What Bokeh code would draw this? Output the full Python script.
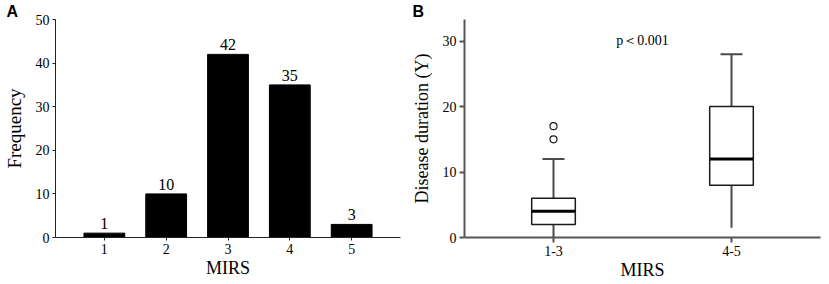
from bokeh.plotting import figure
from bokeh.layouts import row
from bokeh.models import Range1d, FactorRange, FixedTicker, Label, ColumnDataSource
from bokeh.embed import file_html
from bokeh.resources import INLINE
from bokeh.core.properties import value

# ---- Panel A data ----
mirs_scores = [1, 2, 3, 4, 5]
frequency = [1, 10, 42, 35, 3]
freq_ticks = [0, 10, 20, 30, 40, 50]

# ---- Panel B data ----
groups = ["1-3", "4-5"]
lower_whisker = [0, 1.5]
q1 = [2, 8]
median = [4, 12]
q3 = [6, 20]
upper_whisker = [12, 28]
outlier_group = ["1-3", "1-3"]
outlier_value = [15, 17]
dur_ticks = [0, 10, 20, 30]

SERIF = "Liberation Serif"


def style_axes(p, axis_color, axis_width, tick_out):
    for ax in (p.xaxis[0], p.yaxis[0]):
        ax.axis_line_color = axis_color
        ax.axis_line_width = axis_width
        ax.major_tick_line_color = axis_color
        ax.major_tick_line_width = axis_width
        ax.major_tick_out = tick_out
        ax.major_tick_in = 0
        ax.minor_tick_line_color = None
        ax.major_label_text_font = SERIF
        ax.major_label_text_font_size = "14px"
        ax.major_label_text_color = "black"
        ax.axis_label_text_font = SERIF
        ax.axis_label_text_font_style = "normal"
        ax.axis_label_text_font_size = "18px"
        ax.axis_label_text_color = "black"
        ax.major_label_standoff = 3
    p.xgrid.grid_line_color = None
    p.ygrid.grid_line_color = None
    p.outline_line_color = None


def panel_letter(p, letter, offset):
    p.title.text = letter
    p.title.align = "left"
    p.title.offset = offset
    p.title.standoff = 0
    p.title.text_font = "Liberation Sans"
    p.title.text_font_style = "bold"
    p.title.text_font_size = "16px"
    p.title.text_line_height = 0.6
    p.title.text_color = "black"


# ---------------- Panel A ----------------
pa = figure(width=408, height=282, output_backend="svg", toolbar_location=None,
            x_range=Range1d(0.21, 5.79), y_range=Range1d(0, 50),
            min_border_left=53, min_border_right=8, min_border_top=0, min_border_bottom=43)
style_axes(pa, "#222222", 1, 3)
pa.xaxis.ticker = FixedTicker(ticks=mirs_scores)
pa.yaxis.ticker = FixedTicker(ticks=freq_ticks)
pa.xaxis.axis_label = "MIRS"
pa.yaxis.axis_label = "Frequency"
pa.yaxis.axis_label_text_font_size = "19px"
pa.xaxis.axis_label_standoff = 1
pa.yaxis.axis_label_standoff = 8
panel_letter(pa, "A", -49)

src_a = ColumnDataSource(dict(x=mirs_scores, y=frequency, lab=[str(v) for v in frequency]))
pa.vbar(x="x", top="y", width=0.66, bottom=0, source=src_a,
        fill_color="black", line_color="black")
pa.text(x="x", y="y", text="lab", source=src_a, text_align="center",
        text_baseline="bottom", y_offset=-4, text_font=value(SERIF),
        text_font_size="16px", text_color="black")

# ---------------- Panel B ----------------
pb = figure(width=418, height=282, output_backend="svg", toolbar_location=None,
            x_range=FactorRange(*groups, range_padding=0), y_range=Range1d(0, 33.3),
            min_border_left=56, min_border_right=6, min_border_top=0, min_border_bottom=43)
style_axes(pb, "#555555", 2, 5)
pb.yaxis.ticker = FixedTicker(ticks=dur_ticks)
pb.xaxis.axis_label = "MIRS"
pb.yaxis.axis_label = "Disease duration (Y)"
pb.xaxis.axis_label_standoff = 1
pb.yaxis.axis_label_standoff = 8
panel_letter(pb, "B", -52)

src_b = ColumnDataSource(dict(g=groups, lo=lower_whisker, q1=q1, med=median,
                              q3=q3, hi=upper_whisker))
# whiskers
pb.segment(x0="g", y0="lo", x1="g", y1="q1", source=src_b, line_color="#4a4a4a", line_width=2)
pb.segment(x0="g", y0="q3", x1="g", y1="hi", source=src_b, line_color="#4a4a4a", line_width=2)
pb.scatter(x="g", y="hi", source=src_b, marker="dash", size=22, angle=0,
           line_color="#4a4a4a", line_width=2)
# boxes
pb.vbar(x="g", width=0.245, bottom="q1", top="q3", source=src_b,
        fill_color="white", line_color="#1a1a1a", line_width=1.5)
pb.scatter(x="g", y="med", source=src_b, marker="dash", size=43,
           line_color="black", line_width=3)
# outliers
pb.scatter(x=outlier_group, y=outlier_value, marker="circle", size=7,
           fill_color="white", line_color="#1a1a1a", line_width=1.2)

pb.add_layout(Label(x=1.0, y=30.1, text="p\uff1c0.001", text_align="center",
                    text_baseline="middle", text_font=SERIF,
                    text_font_size="14px", text_color="black"))

layout = row(pa, pb)
open("out.html", "w").write(file_html(layout, INLINE))
